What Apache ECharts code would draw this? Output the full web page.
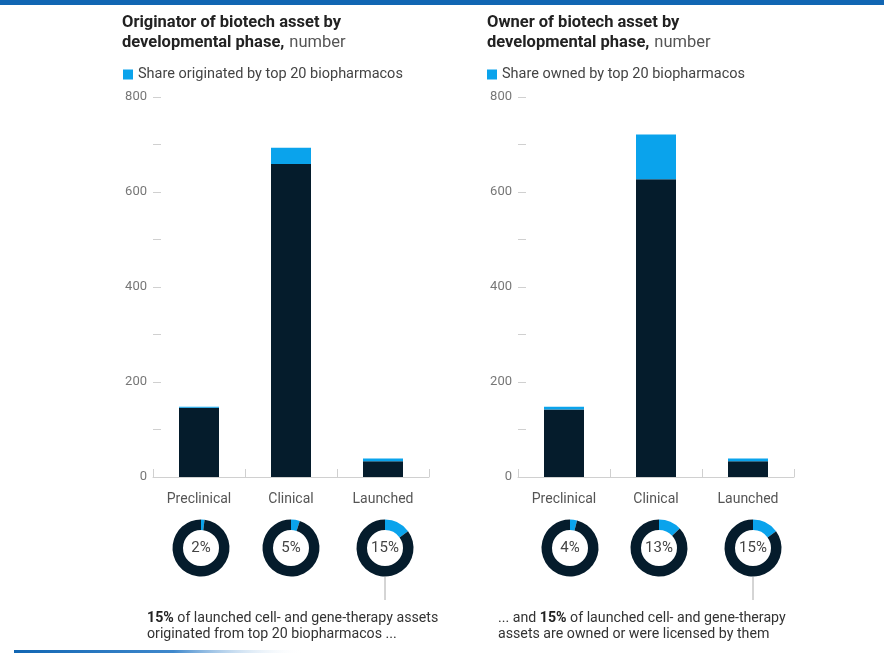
<!DOCTYPE html>
<html>
<head>
<meta charset="utf-8">
<script src="https://cdn.jsdelivr.net/npm/echarts@6/dist/echarts.min.js"></script>
<style>
  html, body { margin: 0; padding: 0; background: #fff; }
  #chart { width: 884px; height: 653px; }
</style>
</head>
<body>
<div id="chart"></div>
<script>
// data
const categories = ['Preclinical', 'Clinical', 'Launched'];
const originOther = [146, 659, 33];
const originTop20 = [2, 34, 6];
const ownerOther = [142, 627, 33];
const ownerTop20 = [6, 94, 6];
const originShare = [2, 5, 15];
const ownerShare = [4, 13, 15];
const yMin = 0, yMax = 800, yStep = 100;

const DARK = '#051c2c';
const BLUE = '#0aa3ec';
const FONT = 'Roboto, "Liberation Sans", sans-serif';

const chart = echarts.init(document.getElementById('chart'));

function xAxis(gridIndex) {
    return {
        type: 'category',
        gridIndex: gridIndex,
        data: categories,
        axisLine: { lineStyle: { color: '#d0d0d0', width: 1 } },
        axisTick: { show: true, inside: true, length: 8, lineStyle: { color: '#d0d0d0' } },
        axisLabel: { margin: 15, color: '#555', fontSize: 14, fontFamily: FONT }
    };
}

function yAxis(gridIndex) {
    return {
        type: 'value',
        gridIndex: gridIndex,
        min: yMin, max: yMax, interval: yStep,
        axisLine: { show: false },
        axisTick: { show: true, inside: true, length: 8, lineStyle: { color: '#d0d0d0' } },
        splitLine: { show: false },
        axisLabel: {
            margin: 6, color: '#777', fontSize: 13, fontFamily: FONT,
            formatter: v => (v % 200 === 0 ? String(v) : '')
        }
    };
}

// donut for share of top 20
function donut(share, center) {
    return {
        type: 'pie',
        radius: [18, 28.5],
        center: center,
        startAngle: 90,
        clockwise: true,
        silent: true,
        labelLine: { show: false },
        label: { show: false },
        data: [
            {
                value: share, itemStyle: { color: BLUE },
                label: {
                    show: true, position: 'center', formatter: share + '%',
                    color: '#444', fontSize: 15, fontFamily: FONT
                }
            },
            { value: 100 - share, itemStyle: { color: DARK } }
        ]
    };
}

const legendNames = ['Share originated by top 20 biopharmacos', 'Share owned by top 20 biopharmacos'];
const titleRich = {
    b: { fontSize: 16.5, fontWeight: 'bold', color: '#222', fontFamily: FONT, lineHeight: 20 },
    r: { fontSize: 16.5, fontWeight: 'normal', color: '#555', fontFamily: FONT, lineHeight: 20 }
};
const legendText = { color: '#444', fontSize: 14.5, fontFamily: FONT, padding: [0, 0, 0, 0] };
const noteText = {
    fill: '#333', fontSize: 14.2, fontFamily: FONT, lineHeight: 16,
    rich: { b: { fontWeight: 'bold', fontSize: 14.2, fontFamily: FONT, fill: '#222' } }
};

const option = {
    backgroundColor: '#fff',
    animation: false,
    title: [
        {
            left: 117, top: 8,
            text: '{b|Originator of biotech asset by}\n{b|developmental phase,} {r|number}',
            textStyle: { rich: titleRich }
        },
        {
            left: 482, top: 8,
            text: '{b|Owner of biotech asset by}\n{b|developmental phase,} {r|number}',
            textStyle: { rich: titleRich }
        }
    ],
    legend: [
        {
            data: [legendNames[0]], left: 118, top: 62, itemWidth: 10, itemHeight: 10, itemGap: 6,
            icon: 'rect', selectedMode: false, textStyle: legendText
        },
        {
            data: [legendNames[1]], left: 482, top: 62, itemWidth: 10, itemHeight: 10, itemGap: 6,
            icon: 'rect', selectedMode: false, textStyle: legendText
        }
    ],
    grid: [
        { left: 153, right: 455, top: 97, bottom: 176 },
        { left: 518, right: 90, top: 97, bottom: 176 }
    ],
    xAxis: [xAxis(0), xAxis(1)],
    yAxis: [yAxis(0), yAxis(1)],
    series: [
        { type: 'bar', name: 'origin other', xAxisIndex: 0, yAxisIndex: 0, stack: 'a', barWidth: 40, data: originOther, itemStyle: { color: DARK } },
        { type: 'bar', name: legendNames[0], xAxisIndex: 0, yAxisIndex: 0, stack: 'a', barWidth: 40, data: originTop20, itemStyle: { color: BLUE } },
        { type: 'bar', name: 'owner other', xAxisIndex: 1, yAxisIndex: 1, stack: 'b', barWidth: 40, data: ownerOther, itemStyle: { color: DARK } },
        { type: 'bar', name: legendNames[1], xAxisIndex: 1, yAxisIndex: 1, stack: 'b', barWidth: 40, data: ownerTop20, itemStyle: { color: BLUE } },
        donut(originShare[0], [201, 548]),
        donut(originShare[1], [291, 548]),
        donut(originShare[2], [385, 548]),
        donut(ownerShare[0], [570, 548]),
        donut(ownerShare[1], [659, 548]),
        donut(ownerShare[2], [753, 548])
    ],
    graphic: [
        { type: 'rect', shape: { x: 0, y: 0, width: 884, height: 5 }, style: { fill: '#1166b3' } },
        {
            type: 'rect', shape: { x: 14, y: 650, width: 290, height: 3 },
            style: {
                fill: new echarts.graphic.LinearGradient(0, 0, 1, 0, [
                    { offset: 0, color: '#1166b3' },
                    { offset: 0.55, color: '#3f88cc' },
                    { offset: 1, color: 'rgba(255,255,255,0)' }
                ])
            }
        },
        { type: 'line', shape: { x1: 385, y1: 577, x2: 385, y2: 600 }, style: { stroke: '#aaa', lineWidth: 1 } },
        { type: 'line', shape: { x1: 753, y1: 577, x2: 753, y2: 600 }, style: { stroke: '#aaa', lineWidth: 1 } },
        {
            type: 'text', left: 147, top: 610,
            style: Object.assign({ text: '{b|15%} of launched cell- and gene-therapy assets\noriginated from top 20 biopharmacos ...' }, noteText)
        },
        {
            type: 'text', left: 498, top: 610,
            style: Object.assign({ text: '... and {b|15%} of launched cell- and gene-therapy\nassets are owned or were licensed by them' }, noteText)
        }
    ]
};

chart.setOption(option);
</script>
</body>
</html>
